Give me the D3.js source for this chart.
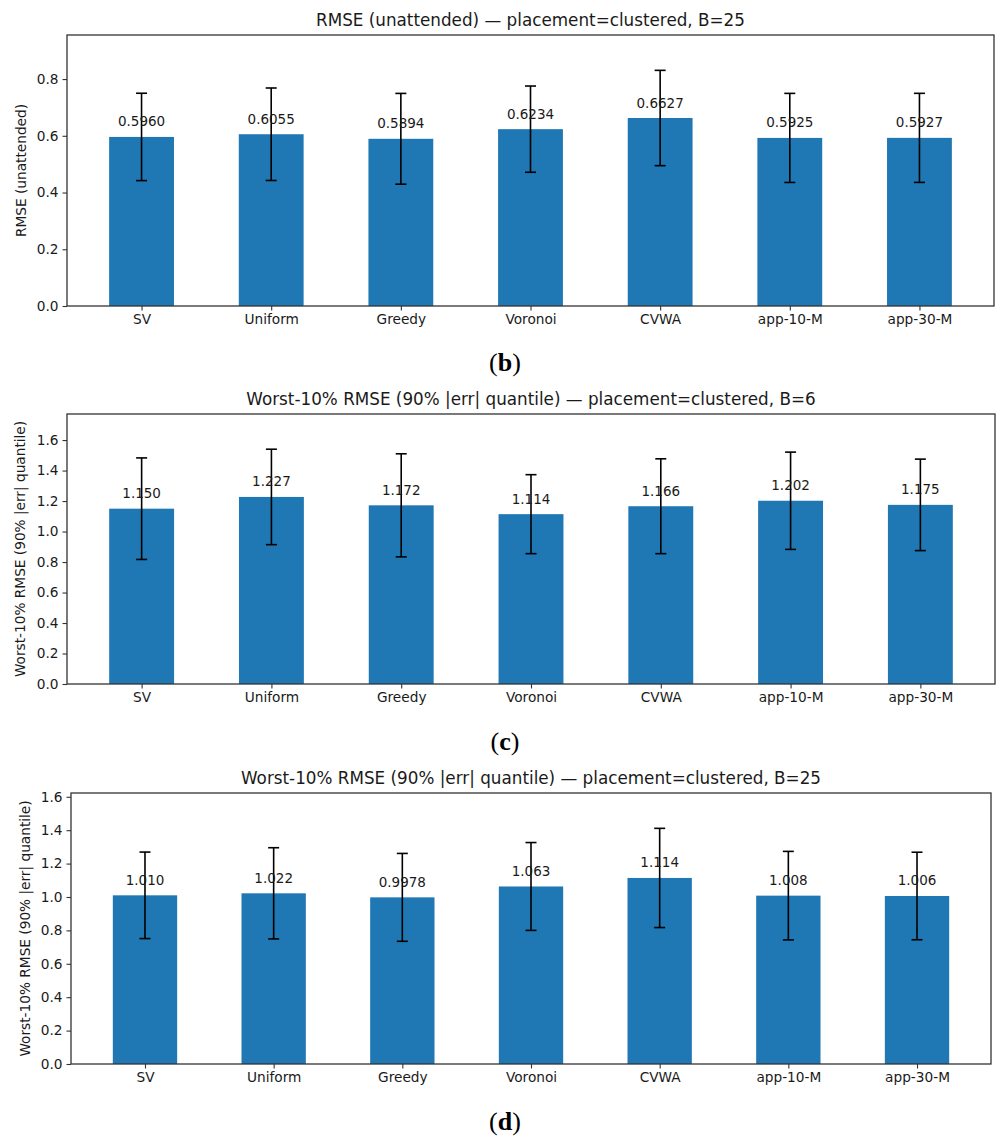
<!DOCTYPE html>
<html>
<head>
<meta charset="utf-8">
<script src="https://cdn.jsdelivr.net/npm/d3@7"></script>
<style>
  body { margin: 0; background: #fff; }
  svg { display: block; }
  text { font-family: "DejaVu Sans", sans-serif; fill: #1a1a1a; }
</style>
</head>
<body>
<svg id="fig" width="1006" height="1143"></svg>
<script>
'use strict';

// categories shared by all three panels
var methods = ['SV', 'Uniform', 'Greedy', 'Voronoi', 'CVWA', 'app-10-M', 'app-30-M'];

// (b) RMSE unattended, B=25
var rmseMean = [0.5960, 0.6055, 0.5894, 0.6234, 0.6627, 0.5925, 0.5927];
var rmseStd  = [0.154, 0.163, 0.160, 0.152, 0.168, 0.157, 0.157];

// (c) worst-10% RMSE, B=6
var worstB6Mean = [1.150, 1.227, 1.172, 1.114, 1.166, 1.202, 1.175];
var worstB6Std  = [0.333, 0.313, 0.338, 0.259, 0.311, 0.319, 0.300];

// (d) worst-10% RMSE, B=25
var worstB25Mean = [1.010, 1.022, 0.9978, 1.063, 1.114, 1.008, 1.006];
var worstB25Std  = [0.259, 0.273, 0.263, 0.263, 0.297, 0.265, 0.262];

var titles = [
    'RMSE (unattended) \u2014 placement=clustered, B=25',
    'Worst-10% RMSE (90% |err| quantile) \u2014 placement=clustered, B=6',
    'Worst-10% RMSE (90% |err| quantile) \u2014 placement=clustered, B=25'
];
var yLabels = ['RMSE (unattended)', 'Worst-10% RMSE (90% |err| quantile)', 'Worst-10% RMSE (90% |err| quantile)'];
var panelTags = ['b', 'c', 'd'];
var yTicks = [[0, 0.2, 0.4, 0.6, 0.8], [0, 0.2, 0.4, 0.6, 0.8, 1.0, 1.2, 1.4, 1.6], [0, 0.2, 0.4, 0.6, 0.8, 1.0, 1.2, 1.4, 1.6]];

var svg = d3.select('#fig');
var fmt = d3.format('.4g');

var boxes = [
    {left: 67, right: 994, top: 35, bottom: 306, ylab: 21, tag: 371},
    {left: 67, right: 995, top: 414, bottom: 684, ylab: 20, tag: 750},
    {left: 71, right: 991, top: 793, bottom: 1064, ylab: 25, tag: 1130}
];

function drawPanel(i, means, stds) {
    var b = boxes[i];
    var n = methods.length;
    var topVal = d3.max(means.map(function(m, k) { return m + stds[k]; })) * 1.15;

    var x = d3.scaleLinear().domain([-0.575, n - 1 + 0.575]).range([b.left, b.right]);
    var y = d3.scaleLinear().domain([0, topVal]).range([b.bottom, b.top]);
    var barW = x(0.5) - x(0);

    var g = svg.append('g');

    g.selectAll('rect.bar')
        .data(means)
        .enter()
        .append('rect')
        .attr('class', 'bar')
        .attr('x', function(d, k) { return x(k) - barW / 2; })
        .attr('y', function(d) { return y(d); })
        .attr('width', barW)
        .attr('height', function(d) { return y(0) - y(d); })
        .style('fill', '#1f77b4');

    // error bars
    var eb = g.selectAll('g.err')
        .data(means)
        .enter()
        .append('g')
        .attr('class', 'err')
        .style('stroke', '#000')
        .style('stroke-width', 1.6);
    eb.append('line')
        .attr('x1', function(d, k) { return x(k); })
        .attr('x2', function(d, k) { return x(k); })
        .attr('y1', function(d, k) { return y(d - stds[k]); })
        .attr('y2', function(d, k) { return y(d + stds[k]); });
    eb.append('line')
        .attr('x1', function(d, k) { return x(k) - 5.5; })
        .attr('x2', function(d, k) { return x(k) + 5.5; })
        .attr('y1', function(d, k) { return y(d + stds[k]); })
        .attr('y2', function(d, k) { return y(d + stds[k]); });
    eb.append('line')
        .attr('x1', function(d, k) { return x(k) - 5.5; })
        .attr('x2', function(d, k) { return x(k) + 5.5; })
        .attr('y1', function(d, k) { return y(d - stds[k]); })
        .attr('y2', function(d, k) { return y(d - stds[k]); });

    // value labels
    g.selectAll('text.val')
        .data(means)
        .enter()
        .append('text')
        .attr('class', 'val')
        .attr('x', function(d, k) { return x(k); })
        .attr('y', function(d) { return y(d) - 10.5; })
        .attr('text-anchor', 'middle')
        .style('font-size', '13.5px')
        .text(function(d) { return fmt(d); });

    // axes
    var xAxis = d3.axisBottom(x)
        .tickValues(d3.range(n))
        .tickFormat(function(k) { return methods[k]; })
        .tickSizeInner(4.5).tickSizeOuter(0).tickPadding(4);
    var yAxis = d3.axisLeft(y)
        .tickValues(yTicks[i])
        .tickFormat(d3.format('.1f'))
        .tickSizeInner(4.5).tickSizeOuter(0).tickPadding(4);

    var gx = g.append('g').attr('transform', 'translate(0,' + b.bottom + ')').call(xAxis);
    var gy = g.append('g').attr('transform', 'translate(' + b.left + ',0)').call(yAxis);
    [gx, gy].forEach(function(a) {
        a.select('.domain').remove();
        a.selectAll('.tick line').style('stroke', '#333').style('stroke-width', 1.1);
        a.selectAll('.tick text').style('font-size', '13.7px').style('font-family', '"DejaVu Sans", sans-serif').style('fill', '#1a1a1a');
    });

    // frame
    g.append('rect')
        .attr('x', b.left).attr('y', b.top)
        .attr('width', b.right - b.left).attr('height', b.bottom - b.top)
        .style('fill', 'none').style('stroke', '#333').style('stroke-width', 1.3);

    g.append('text')
        .attr('x', (b.left + b.right) / 2)
        .attr('y', b.top - 9)
        .attr('text-anchor', 'middle')
        .style('font-size', '16.8px')
        .text(titles[i]);

    g.append('text')
        .attr('transform', 'translate(' + b.ylab + ',' + ((b.top + b.bottom) / 2) + ') rotate(-90)')
        .attr('text-anchor', 'middle')
        .attr('dy', '0.35em')
        .style('font-size', '13.7px')
        .text(yLabels[i]);

    var tag = svg.append('text')
        .attr('x', 505)
        .attr('y', b.tag)
        .attr('text-anchor', 'middle')
        .style('font-family', '"Liberation Serif", "Times New Roman", serif')
        .style('font-size', '26px')
        .style('fill', '#000');
    tag.append('tspan').text('(');
    tag.append('tspan').style('font-weight', 'bold').text(panelTags[i]);
    tag.append('tspan').text(')');
}

drawPanel(0, rmseMean, rmseStd);
drawPanel(1, worstB6Mean, worstB6Std);
drawPanel(2, worstB25Mean, worstB25Std);
</script>
</body>
</html>
